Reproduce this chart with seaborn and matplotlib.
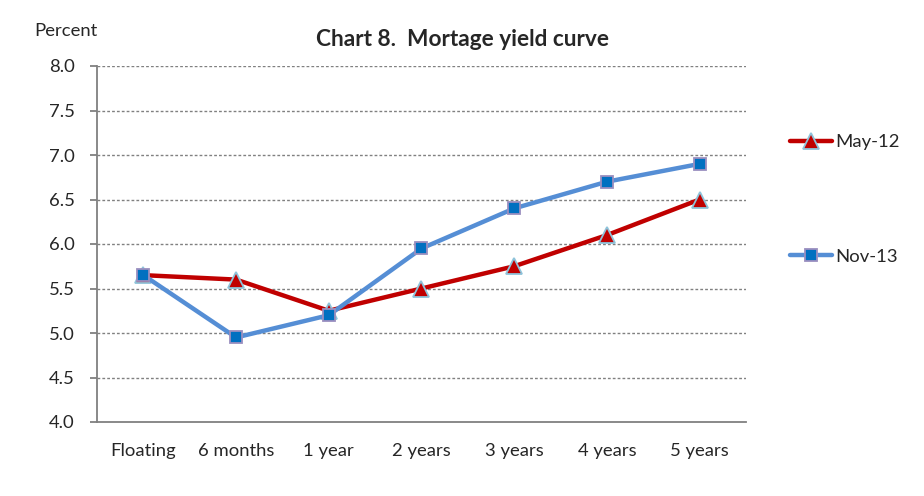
import matplotlib
matplotlib.use("Agg")
import matplotlib.pyplot as plt
import seaborn as sns
import pandas as pd
from matplotlib.ticker import FixedLocator
from matplotlib.lines import Line2D

categories = ["Floating", "6 months", "1 year", "2 years", "3 years", "4 years", "5 years"]
may12 = [5.65, 5.60, 5.25, 5.50, 5.75, 6.10, 6.50]
nov13 = [5.65, 4.95, 5.20, 5.95, 6.40, 6.70, 6.90]
series_names = ["May-12", "Nov-13"]
y_ticks = [4.0, 4.5, 5.0, 5.5, 6.0, 6.5, 7.0, 7.5, 8.0]

sns.set_style("white")
plt.rcParams['font.family'] = ['Lato', 'DejaVu Sans']

df = pd.DataFrame({
    "category": categories * 2,
    "value": may12 + nov13,
    "series": [series_names[0]] * len(categories) + [series_names[1]] * len(categories),
})

fig = plt.figure(figsize=(9.24, 4.96), dpi=100)
ax = fig.add_axes([97/924, 1 - 422/496, (746-97)/924, (422-66)/496])

line_colors = {"May-12": "#C00000", "Nov-13": "#558ED5"}
sns.lineplot(data=df, x="category", y="value", hue="series", palette=line_colors,
             sort=False, linewidth=3.2, ax=ax, legend=False)

marker_style = {
    "May-12": dict(marker="^", mfc="#C00000", mec="#8EC3DA", ms=11),
    "Nov-13": dict(marker="s", mfc="#0070C0", mec="#9A8FBF", ms=8.5),
}
for line, name in zip(ax.get_lines(), series_names):
    st = marker_style[name]
    line.set_marker(st["marker"])
    line.set_markerfacecolor(st["mfc"])
    line.set_markeredgecolor(st["mec"])
    line.set_markersize(st["ms"])
    line.set_markeredgewidth(1.3)

fs = 13.3
ax.set_xlim(-0.5, len(categories) - 0.5)
ax.set_ylim(4.0, 8.0)
ax.set_yticks(y_ticks)
ax.set_yticklabels([f"{v:.1f}" for v in y_ticks], fontsize=fs)
ax.set_xticks(range(len(categories)))
ax.set_xticklabels(categories, fontsize=fs)
ax.xaxis.set_minor_locator(FixedLocator([i - 0.5 for i in range(len(categories) + 1)]))
ax.tick_params(axis="x", which="major", length=0, pad=15)
ax.tick_params(axis="x", which="minor", length=5, width=1.3, color="#808080", direction="out")
ax.tick_params(axis="y", which="major", length=5, width=1.3, color="#808080", direction="out", pad=11, left=True)
ax.set_xlabel("")
ax.set_ylabel("")

for y in y_ticks[1:]:
    ax.axhline(y, color="#808080", linestyle=(0, (2, 1.5)), linewidth=1.0, zorder=0)

for side in ["top", "right"]:
    ax.spines[side].set_visible(False)
for side in ["left", "bottom"]:
    ax.spines[side].set_color("#808080")
    ax.spines[side].set_linewidth(1.3)

fig.text(0.5, 1 - 39/496, "Chart 8.  Mortage yield curve", ha="center", va="center",
         fontsize=16.3, fontweight="bold")
fig.text(34/924, 1 - 31/496, "Percent", ha="left", va="center", fontsize=fs)

handles = []
for name in series_names:
    st = marker_style[name]
    handles.append(Line2D([0], [0], color=line_colors[name], linewidth=3.2,
                          marker=st["marker"], mfc=st["mfc"], mec=st["mec"],
                          ms=st["ms"], mew=1.3))
fig.legend(handles, series_names, loc="upper left", bbox_to_anchor=(790/924, 1 - 134/496),
           frameon=False, fontsize=fs, handlelength=2.3, handletextpad=0.15,
           labelspacing=5.35, borderaxespad=0, borderpad=0)

fig.savefig("out.png", dpi=100)
